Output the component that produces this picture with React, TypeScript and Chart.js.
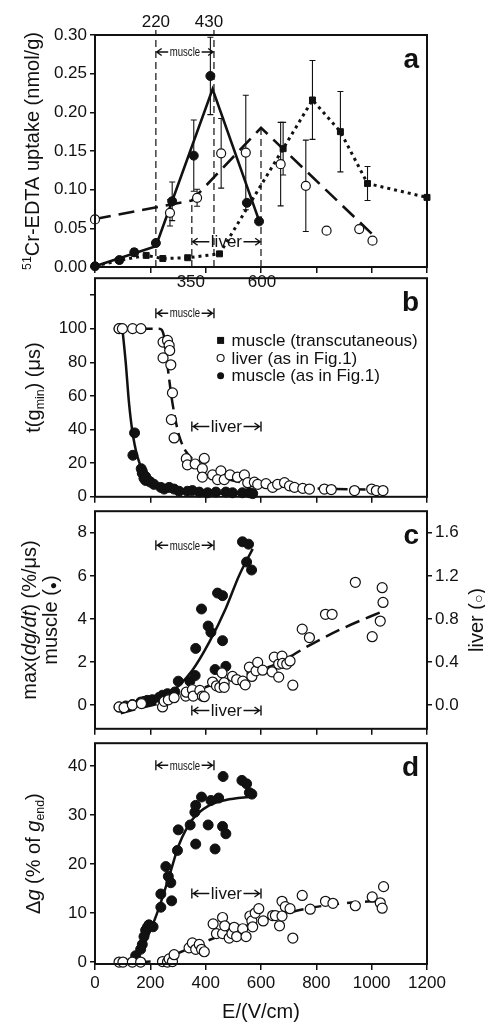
import React, { useEffect, useRef } from "react";
import { Chart, registerables } from "chart.js";

Chart.register(...registerables);

const FONT = '"Liberation Sans", Arial, Helvetica, sans-serif';
const INK = "#111";

// ---------------- shared x axis ----------------
const xMin = 0;
const xMax = 1200;
const xStep = 200;

// ---------------- panel a : 51Cr-EDTA uptake ----------------
const aMuscleX = [0, 88, 142, 220, 279, 357, 417, 549, 593];
const aMuscleY = [0.001, 0.009, 0.019, 0.031, 0.085, 0.144, 0.247, 0.083, 0.059];
const aMuscleErr = [0, 0, 0.005, 0.004, 0.025, 0.046, 0.05, 0, 0];
const aMuscleFitX = [0, 220, 425, 595];
const aMuscleFitY = [0.001, 0.027, 0.23, 0.058];

const aLiverX = [0, 271, 369, 456, 545, 671, 762, 837, 955, 1003];
const aLiverY = [0.0615, 0.07, 0.0895, 0.147, 0.148, 0.133, 0.105, 0.047, 0.049, 0.034];
const aLiverErr = [0, 0.017, 0.011, 0.045, 0.074, 0.054, 0.059, 0, 0, 0.004];
const aLiverFitX = [0, 350, 600, 1018];
const aLiverFitY = [0.062, 0.086, 0.18, 0.037];

const aTransX = [0, 88, 185, 245, 335, 450, 680, 786, 887, 985, 1200];
const aTransY = [0.001, 0.0086, 0.015, 0.011, 0.012, 0.017, 0.153, 0.216, 0.175, 0.108, 0.09];
const aTransErr = [0, 0, 0, 0, 0, 0, 0.034, 0.051, 0.052, 0.022, 0];

const aYTicks = { min: 0, max: 0.3, step: 0.05 };
const aTopMarks = [220, 430];
const aLiverMarks = [350, 600];
const aLiverMarkTops = [0.088, 0.18];

// ---------------- panel b : t(gmin) ----------------
const bLiverX = [87, 99, 136, 166, 246, 262, 268, 270, 246, 274, 280, 276, 286, 330, 334, 362, 388, 395, 388, 425, 455, 443, 467, 488, 515, 540, 552, 576, 588, 618, 642, 660, 685, 703, 721, 751, 775, 829, 854, 938, 1000, 1017, 1041];
const bLiverY = [100, 100, 100, 100, 92, 93, 90, 87, 82.6, 78.5, 61.8, 45.9, 35, 22.7, 19, 19.5, 16.7, 22.8, 11.7, 13, 15.4, 10.2, 10.2, 13, 11.7, 13, 8.4, 8.7, 7.4, 7.8, 5.6, 7.4, 8.4, 6.5, 5.6, 5, 4.6, 4.6, 4.3, 3.7, 4.6, 3.7, 3.7];
const bMuscleX = [87, 95, 137, 143, 167, 171, 171, 177, 183, 183, 196, 201, 213, 238, 250, 268, 286, 304, 334, 352, 377, 407, 437, 473, 497, 533, 558, 570];
const bMuscleY = [100, 100, 24.7, 38, 16.7, 14, 15.2, 11, 9.7, 12, 9.3, 8.7, 7.4, 5.6, 4.6, 5.6, 4.6, 3.3, 3.3, 3.7, 2.8, 2.4, 2.8, 2.8, 2.4, 2.4, 2.4, 1.9];
const bMuscleFitX = [99, 111, 123, 135, 153, 177, 213, 292, 400, 570];
const bMuscleFitY = [100, 80, 55.7, 39, 24, 14, 7.4, 3.7, 2.2, 1.5];
const bLiverFitX = [165, 232, 250, 265, 280, 306, 364, 425, 509, 715, 1041];
const bLiverFitY = [100, 100, 95, 74, 55.7, 35.3, 20.4, 14, 9.3, 5.6, 4.1];
const bYTicks = { min: 0, max: 130, step: 20 };
const bLegendLabels = ["muscle (transcutaneous)", "liver (as in Fig.1)", "muscle (as in Fig.1)"];

// ---------------- panel c : max(dg/dt) ----------------
const cMuscleX = [87, 111, 135, 165, 177, 189, 207, 232, 244, 262, 289, 301, 343, 362, 364, 385, 409, 419, 434, 443, 461, 461, 473, 533, 548, 555, 566];
const cMuscleY = [-0.09, -0.04, 0.03, 0.14, 0.17, 0.22, 0.25, 0.36, 0.46, 0.53, 0.61, 1.11, 1.11, 1.37, 2.63, 4.46, 3.67, 3.38, 1.65, 5.2, 5.08, 2.99, 1.8, 7.58, 6.64, 7.47, 6.27];
const cLiverX = [87, 105, 135, 168, 244, 250, 265, 286, 328, 330, 352, 355, 379, 388, 395, 425, 439, 451, 459, 467, 467, 497, 512, 534, 543, 558, 567, 582, 588, 606, 640, 648, 664, 664, 676, 678, 693, 705, 715, 749, 775, 833, 857, 941, 1002, 1031, 1038, 1041];
const cLiverY = [-0.017, -0.023, 0.0, 0.014, -0.017, 0.035, 0.049, 0.069, 0.084, 0.12, 0.144, 0.084, 0.136, 0.084, 0.078, 0.214, 0.179, 0.165, 0.3, 0.208, 0.165, 0.266, 0.237, 0.222, 0.188, 0.352, 0.266, 0.318, 0.396, 0.324, 0.309, 0.445, 0.26, 0.381, 0.454, 0.387, 0.381, 0.41, 0.185, 0.705, 0.627, 0.843, 0.843, 1.14, 0.635, 0.78, 1.09, 0.953];
const cMuscleFitX = [93, 171, 268, 352, 413, 473, 521, 570];
const cMuscleFitY = [-0.33, 0.03, 0.53, 1.62, 2.92, 4.5, 6.02, 7.25];
const cLiverFitX = [93, 171, 304, 413, 534, 654, 775, 896, 1041];
const cLiverFitY = [-0.075, -0.023, 0.064, 0.18, 0.28, 0.38, 0.555, 0.713, 0.872];
const cYTicks = { min: -1.1, max: 9, step: 2 };
const cY2Ticks = { min: -0.22, max: 1.8, step: 0.4 };

// ---------------- panel d : delta g ----------------
const dMuscleX = [147, 165, 171, 177, 183, 189, 195, 210, 238, 238, 256, 265, 274, 277, 298, 301, 344, 361, 364, 364, 385, 409, 419, 434, 447, 461, 463, 473, 531, 548, 558, 567];
const dMuscleY = [1.3, 2.6, 3.6, 5.2, 6.5, 7.1, 7.6, 7.2, 13.9, 11.2, 19.5, 17.5, 16.2, 12.5, 22.8, 27, 28, 30.6, 32, 24.1, 33.7, 28, 33, 23.1, 33.5, 27.7, 37.9, 26.2, 37.1, 36.4, 34.6, 34.3];
const dLiverX = [87, 101, 135, 165, 244, 262, 268, 280, 286, 340, 352, 364, 377, 385, 395, 427, 439, 461, 461, 469, 485, 495, 503, 512, 534, 546, 560, 567, 570, 579, 592, 608, 642, 652, 667, 676, 676, 688, 705, 715, 749, 778, 833, 860, 941, 1002, 1031, 1038, 1043];
const dLiverY = [0, 0, 0, 0, 0.1, 0, 0.65, 0.1, 1.5, 2.9, 3.9, 2.6, 3.6, 2.6, 2.1, 7.8, 5.8, 9.1, 5.8, 7.4, 4.9, 5.8, 7.1, 5.2, 6.8, 5.2, 9.4, 8.4, 7.2, 10, 10.9, 8.4, 9.5, 9.5, 7.4, 9.4, 12.4, 11.3, 10.9, 4.9, 13.6, 10.8, 12.4, 12, 11.5, 13.3, 12.1, 11, 15.4];
const dMuscleFitX = [99, 147, 195, 231, 268, 304, 352, 413, 473, 570];
const dMuscleFitY = [0, 0.65, 5.8, 11, 17.5, 24, 29.1, 32, 33.1, 33.8];
const dLiverFitX = [165, 231, 304, 413, 534, 654, 775, 896, 1029];
const dLiverFitY = [0, 0.3, 1.9, 4.5, 7.1, 9.4, 11, 12, 12.5];
const dYTicks = { min: -0.4, max: 44.7, step: 10 };

// field windows used by the |<- muscle ->| and |<- liver ->| marks
const muscleWindow = [220, 430];
const liverWindow = [350, 600];

// ---------------- helpers ----------------
const pts = (xs: number[], ys: number[]) => xs.map((x, i) => ({ x, y: ys[i] }));

type Seg = { t: string; it?: boolean; sub?: boolean; sup?: boolean; sc?: number };

function segFont(s: Seg, size: number) {
  let sz = s.sub || s.sup ? size * 0.62 : size;
  if (s.sc) sz *= s.sc;
  return `${s.it ? "italic " : ""}${sz}px ${FONT}`;
}

function drawRich(ctx: any, segs: Seg[], cx: number, cy: number, size: number, rot: number) {
  ctx.save();
  ctx.translate(cx, cy);
  ctx.rotate(rot);
  ctx.fillStyle = INK;
  ctx.textAlign = "left";
  ctx.textBaseline = "alphabetic";
  const widths = segs.map((s) => {
    ctx.font = segFont(s, size);
    return ctx.measureText(s.t).width;
  });
  const total = widths.reduce((a, b) => a + b, 0);
  let x = -total / 2;
  const base = size * 0.36;
  segs.forEach((s, i) => {
    ctx.font = segFont(s, size);
    const dy = s.sub ? size * 0.2 : s.sup ? -size * 0.4 : 0;
    ctx.fillText(s.t, x, base + dy);
    x += widths[i];
  });
  ctx.restore();
}

type Span = { x1: number; x2: number; y: number; axis?: string; label: string; size: number; sx: number; bars: boolean };
type VLine = { x: number; y0?: number; y1?: number; extend?: number };
type TextLbl = { x: number; dx: number; py: number; text: string };
type Title = { segs: Seg[]; cx: number; dy?: number };
type Legend = { x: number; ys: number[]; kinds: string[]; labels: string[] };
type Decor = { letter: string; titles: Title[]; spans: Span[]; vlines?: VLine[]; labels?: TextLbl[]; legend?: Legend };

function drawSpan(ctx: any, xs: any, ys: any, s: Span) {
  const x1 = xs.getPixelForValue(s.x1);
  const x2 = xs.getPixelForValue(s.x2);
  const y = ys.getPixelForValue(s.y);
  const cx = (x1 + x2) / 2;
  ctx.save();
  ctx.font = `${s.size}px ${FONT}`;
  const tw = ctx.measureText(s.label).width * s.sx;
  ctx.fillStyle = INK;
  ctx.textAlign = "center";
  ctx.textBaseline = "middle";
  ctx.save();
  ctx.translate(cx, y);
  ctx.scale(s.sx, 1);
  ctx.fillText(s.label, 0, 1);
  ctx.restore();
  ctx.strokeStyle = INK;
  ctx.lineWidth = 1.4;
  const a = x1 + (s.bars ? 1.5 : 0.8);
  const b = x2 - (s.bars ? 1.5 : 0.8);
  ctx.beginPath();
  ctx.moveTo(a, y);
  ctx.lineTo(cx - tw / 2 - 1.5, y);
  ctx.moveTo(cx + tw / 2 + 1.5, y);
  ctx.lineTo(b, y);
  ctx.moveTo(a + 5, y - 3.5);
  ctx.lineTo(a, y);
  ctx.lineTo(a + 5, y + 3.5);
  ctx.moveTo(b - 5, y - 3.5);
  ctx.lineTo(b, y);
  ctx.lineTo(b - 5, y + 3.5);
  if (s.bars) {
    ctx.moveTo(x1, y - 5);
    ctx.lineTo(x1, y + 5);
    ctx.moveTo(x2, y - 5);
    ctx.lineTo(x2, y + 5);
  }
  ctx.stroke();
  ctx.restore();
}

function makeDecor(d: Decor) {
  return {
    id: "decor",
    beforeDatasetsDraw(chart: any) {
      const ctx = chart.ctx;
      const { top, bottom } = chart.chartArea;
      const xs = chart.scales.x;
      const ys = chart.scales.y;
      ctx.save();
      ctx.strokeStyle = INK;
      (d.vlines || []).forEach((v) => {
        const px = xs.getPixelForValue(v.x);
        const y0 = v.y0 === undefined ? bottom : ys.getPixelForValue(v.y0);
        const y1 = v.y1 === undefined ? top - (v.extend || 0) : ys.getPixelForValue(v.y1);
        ctx.setLineDash([7, 4]);
        ctx.lineWidth = 1.2;
        ctx.beginPath();
        ctx.moveTo(px, y0);
        ctx.lineTo(px, y1);
        ctx.stroke();
      });
      ctx.setLineDash([]);
      ctx.lineWidth = 1.1;
      chart.data.datasets.forEach((ds: any, i: number) => {
        if (!ds.errors) return;
        const meta = chart.getDatasetMeta(i);
        const sc = chart.scales[ds.yAxisID || "y"];
        ds.data.forEach((p: any, j: number) => {
          const e = ds.errors[j];
          if (!e) return;
          const px = meta.data[j].x;
          const yt = sc.getPixelForValue(p.y + e);
          const yb = sc.getPixelForValue(p.y - e);
          ctx.beginPath();
          ctx.moveTo(px, yt);
          ctx.lineTo(px, yb);
          ctx.moveTo(px - 3, yt);
          ctx.lineTo(px + 3, yt);
          ctx.moveTo(px - 3, yb);
          ctx.lineTo(px + 3, yb);
          ctx.stroke();
        });
      });
      ctx.restore();
    },
    afterDraw(chart: any) {
      const ctx = chart.ctx;
      const { left, right, top, bottom } = chart.chartArea;
      const xs = chart.scales.x;
      const ys = chart.scales.y;
      ctx.save();
      ctx.strokeStyle = INK;
      ctx.lineWidth = 2;
      ctx.strokeRect(left, top, right - left, bottom - top);
      // panel letter
      ctx.fillStyle = INK;
      ctx.font = `bold 28px ${FONT}`;
      ctx.textAlign = "right";
      ctx.textBaseline = "alphabetic";
      ctx.fillText(d.letter, right - 8, top + 33);
      // axis titles
      const mid = (top + bottom) / 2;
      d.titles.forEach((t) => drawRich(ctx, t.segs, t.cx, mid + (t.dy || 0), 20, -Math.PI / 2));
      // spans
      d.spans.forEach((s) => drawSpan(ctx, xs, chart.scales[s.axis || "y"], s));
      // free labels
      ctx.font = `17px ${FONT}`;
      ctx.textAlign = "center";
      ctx.textBaseline = "middle";
      ctx.fillStyle = INK;
      (d.labels || []).forEach((l) => ctx.fillText(l.text, xs.getPixelForValue(l.x) + l.dx, l.py));
      // legend
      if (d.legend) {
        const L = d.legend;
        const lx = xs.getPixelForValue(L.x);
        L.labels.forEach((lab, k) => {
          const py = ys.getPixelForValue(L.ys[k]);
          const kind = L.kinds[k];
          ctx.lineWidth = 1.1;
          if (kind === "rect") {
            ctx.fillRect(lx - 3.5, py - 3.5, 7, 7);
          } else {
            ctx.beginPath();
            ctx.arc(lx, py, 3.5, 0, Math.PI * 2);
            if (kind === "filled") ctx.fill();
            else {
              ctx.fillStyle = "#fff";
              ctx.fill();
              ctx.stroke();
              ctx.fillStyle = INK;
            }
          }
          ctx.font = `17px ${FONT}`;
          ctx.textAlign = "left";
          ctx.textBaseline = "middle";
          ctx.fillText(lab, lx + 11, py + 1);
        });
      }
      ctx.restore();
    },
  };
}

const tickFont = { family: FONT, size: 17 };

function xScale(showLabels: boolean, height: number) {
  return {
    type: "linear",
    position: "bottom",
    min: xMin,
    max: xMax,
    ticks: {
      display: showLabels,
      stepSize: xStep,
      autoSkip: false,
      padding: 3,
      maxRotation: 0,
      font: tickFont,
      color: INK,
      includeBounds: false,
      callback: (v: any) => String(Number(v)),
    },
    grid: { display: true, drawOnChartArea: false, drawTicks: true, tickLength: 6, color: INK, lineWidth: 1.5 },
    border: { display: false },
    title: showLabels
      ? { display: true, text: "E/(V/cm)", font: { family: FONT, size: 20 }, color: INK, padding: { top: 0, bottom: 0 } }
      : { display: false },
    afterFit: (s: any) => {
      s.height = height;
    },
  };
}

function yScale(t: { min: number; max: number; step: number }, fmt: (v: number) => string, width: number, position = "left") {
  return {
    type: "linear",
    position,
    min: t.min,
    max: t.max,
    ticks: { stepSize: t.step, autoSkip: false, padding: 3, font: tickFont, color: INK, includeBounds: false, callback: (v: any) => fmt(Number(v)) },
    grid: { display: true, drawOnChartArea: false, drawTicks: true, tickLength: 5, color: INK, lineWidth: 1.5 },
    border: { display: false },
    afterFit: (s: any) => {
      s.width = width;
    },
  };
}

const openPts = (data: any[], axis = "y", r = 5) => ({
  type: "scatter",
  data,
  yAxisID: axis,
  showLine: false,
  pointRadius: r,
  pointStyle: "circle",
  pointBackgroundColor: "#fff",
  pointBorderColor: INK,
  pointBorderWidth: 1.2,
  clip: false,
  order: 1,
});
const filledPts = (data: any[], axis = "y", r = 5) => ({
  type: "scatter",
  data,
  yAxisID: axis,
  showLine: false,
  pointRadius: r,
  pointStyle: "circle",
  pointBackgroundColor: INK,
  pointBorderColor: INK,
  pointBorderWidth: 1,
  clip: false,
  order: 1,
});
const fitLine = (data: any[], dash: number[], axis = "y", smooth = true, width = 2.5) => ({
  type: "scatter",
  data,
  yAxisID: axis,
  showLine: true,
  borderColor: INK,
  borderWidth: width,
  borderDash: dash,
  pointRadius: 0,
  cubicInterpolationMode: smooth ? "monotone" : "default",
  tension: 0,
  clip: false,
  order: 2,
});

function baseConfig(datasets: any[], scales: any, padding: any, decor: Decor) {
  return {
    type: "scatter",
    data: { datasets },
    options: {
      animation: false,
      responsive: false,
      events: [],
      layout: { padding },
      plugins: { legend: { display: false }, tooltip: { enabled: false }, title: { display: false } },
      scales,
    },
    plugins: [makeDecor(decor)],
  };
}

const RIGHT_PAD = 58;
const LEFT_W = 95;

function configA() {
  const muscleDs: any = filledPts(pts(aMuscleX, aMuscleY), "y", 4.5);
  muscleDs.errors = aMuscleErr;
  const liverDs: any = openPts(pts(aLiverX, aLiverY), "y", 4.5);
  liverDs.errors = aLiverErr;
  const transDs: any = {
    type: "scatter",
    data: pts(aTransX, aTransY),
    showLine: true,
    borderColor: INK,
    borderWidth: 3,
    borderDash: [3, 4],
    pointStyle: "rect",
    pointRadius: 4.2,
    pointBorderWidth: 1,
    pointBackgroundColor: INK,
    pointBorderColor: INK,
    clip: false,
    order: 1,
    errors: aTransErr,
  };
  const datasets = [
    fitLine(pts(aMuscleFitX, aMuscleFitY), [], "y", false, 2.6),
    fitLine(pts(aLiverFitX, aLiverFitY), [16, 8], "y", false, 2.6),
    transDs,
    muscleDs,
    liverDs,
  ];
  return baseConfig(
    datasets,
    { x: xScale(false, 22), y: yScale(aYTicks, (v) => v.toFixed(2), LEFT_W) },
    { top: 35, left: 0, right: RIGHT_PAD, bottom: 0 },
    {
      letter: "a",
      titles: [{ segs: [{ t: "51", sup: true }, { t: "Cr-EDTA uptake (nmol/g)" }], cx: 32 }],
      vlines: [
        { x: aTopMarks[0], extend: 5 },
        { x: aTopMarks[1], extend: 5 },
        { x: aLiverMarks[0], y0: 0, y1: aLiverMarkTops[0] },
        { x: aLiverMarks[1], y0: 0, y1: aLiverMarkTops[1] },
      ],
      spans: [
        { x1: muscleWindow[0], x2: muscleWindow[1], y: 0.278, label: "muscle", size: 12, sx: 0.8, bars: false },
        { x1: liverWindow[0], x2: liverWindow[1], y: 0.0327, label: "liver", size: 17, sx: 1, bars: false },
      ],
      labels: [
        { x: aTopMarks[0], dx: 0, py: 22, text: String(aTopMarks[0]) },
        { x: aTopMarks[1], dx: -5, py: 22, text: String(aTopMarks[1]) },
        { x: aLiverMarks[0], dx: -1, py: 282, text: String(aLiverMarks[0]) },
        { x: aLiverMarks[1], dx: 1, py: 282, text: String(aLiverMarks[1]) },
      ],
    }
  );
}

function configB() {
  const datasets = [
    fitLine(pts(bMuscleFitX, bMuscleFitY), []),
    fitLine(pts(bLiverFitX, bLiverFitY), [12, 6]),
    openPts(pts(bLiverX, bLiverY)),
    filledPts(pts(bMuscleX, bMuscleY)),
  ];
  return baseConfig(
    datasets,
    { x: xScale(false, 10), y: yScale(bYTicks, (v) => (v === 120 ? "" : String(v)), LEFT_W) },
    { top: 2, left: 0, right: RIGHT_PAD, bottom: 0 },
    {
      letter: "b",
      titles: [{ segs: [{ t: "t(g" }, { t: "min", sub: true }, { t: ") (μs)" }], cx: 33 }],
      spans: [
        { x1: muscleWindow[0], x2: muscleWindow[1], y: 109.2, label: "muscle", size: 12, sx: 0.8, bars: true },
        { x1: liverWindow[0], x2: liverWindow[1], y: 41.8, label: "liver", size: 17, sx: 1, bars: true },
      ],
      legend: { x: 454, ys: [93, 82.5, 72], kinds: ["rect", "open", "filled"], labels: bLegendLabels },
    }
  );
}

function configC() {
  const datasets = [
    fitLine(pts(cMuscleFitX, cMuscleFitY), [], "y"),
    fitLine(pts(cLiverFitX, cLiverFitY), [15, 7], "y2"),
    openPts(pts(cLiverX, cLiverY), "y2"),
    filledPts(pts(cMuscleX, cMuscleY), "y"),
  ];
  return baseConfig(
    datasets,
    {
      x: xScale(false, 10),
      y: yScale(cYTicks, (v) => String(v), LEFT_W),
      y2: yScale(cY2Ticks, (v) => v.toFixed(1), RIGHT_PAD, "right"),
    },
    { top: 2, left: 0, right: 0, bottom: 0 },
    {
      letter: "c",
      titles: [
        { segs: [{ t: "max(" }, { t: "dg/dt", it: true }, { t: ") (%/μs)" }], cx: 29 },
        { segs: [{ t: "muscle (" }, { t: "●", sc: 0.6 }, { t: ")" }], cx: 50 },
        { segs: [{ t: "liver (" }, { t: "○", sc: 0.7 }, { t: ")" }], cx: 476 },
      ],
      spans: [
        { x1: muscleWindow[0], x2: muscleWindow[1], y: 7.42, label: "muscle", size: 12, sx: 0.8, bars: true },
        { x1: liverWindow[0], x2: liverWindow[1], y: -0.25, label: "liver", size: 17, sx: 1, bars: true },
      ],
    }
  );
}

function configD() {
  const datasets = [
    fitLine(pts(dMuscleFitX, dMuscleFitY), []),
    fitLine(pts(dLiverFitX, dLiverFitY), [10, 8]),
    openPts(pts(dLiverX, dLiverY)),
    filledPts(pts(dMuscleX, dMuscleY)),
  ];
  return baseConfig(
    datasets,
    { x: xScale(true, 60), y: yScale(dYTicks, (v) => String(v), LEFT_W) },
    { top: 2, left: 0, right: RIGHT_PAD, bottom: 0 },
    {
      letter: "d",
      titles: [
        {
          segs: [{ t: "Δ" }, { t: "g", it: true }, { t: " (% of " }, { t: "g", it: true }, { t: "end", sub: true }, { t: ")" }],
          cx: 33,
        },
      ],
      spans: [
        { x1: muscleWindow[0], x2: muscleWindow[1], y: 40.2, label: "muscle", size: 12, sx: 0.8, bars: true },
        { x1: liverWindow[0], x2: liverWindow[1], y: 14, label: "liver", size: 17, sx: 1, bars: true },
      ],
    }
  );
}

const LAYOUT = [
  { top: 0, h: 289 },
  { top: 265, h: 245 },
  { top: 498, h: 244 },
  { top: 730, h: 294 },
];

export default function App() {
  const r0 = useRef<HTMLCanvasElement | null>(null);
  const r1 = useRef<HTMLCanvasElement | null>(null);
  const r2 = useRef<HTMLCanvasElement | null>(null);
  const r3 = useRef<HTMLCanvasElement | null>(null);
  const refs = [r0, r1, r2, r3];

  useEffect(() => {
    const cfgs = [configA(), configB(), configC(), configD()];
    const charts = cfgs.map((cfg, i) => new Chart(refs[i].current as HTMLCanvasElement, cfg as any));
    return () => charts.forEach((c) => c.destroy());
  }, []);

  return (
    <div style={{ position: "absolute", left: 0, top: 0, width: 485, height: 1024, background: "#fff", overflow: "hidden" }}>
      {LAYOUT.map((l, i) => (
        <canvas
          key={i}
          ref={refs[i]}
          width={485}
          height={l.h}
          style={{ position: "absolute", left: 0, top: l.top, width: 485, height: l.h }}
        />
      ))}
    </div>
  );
}
